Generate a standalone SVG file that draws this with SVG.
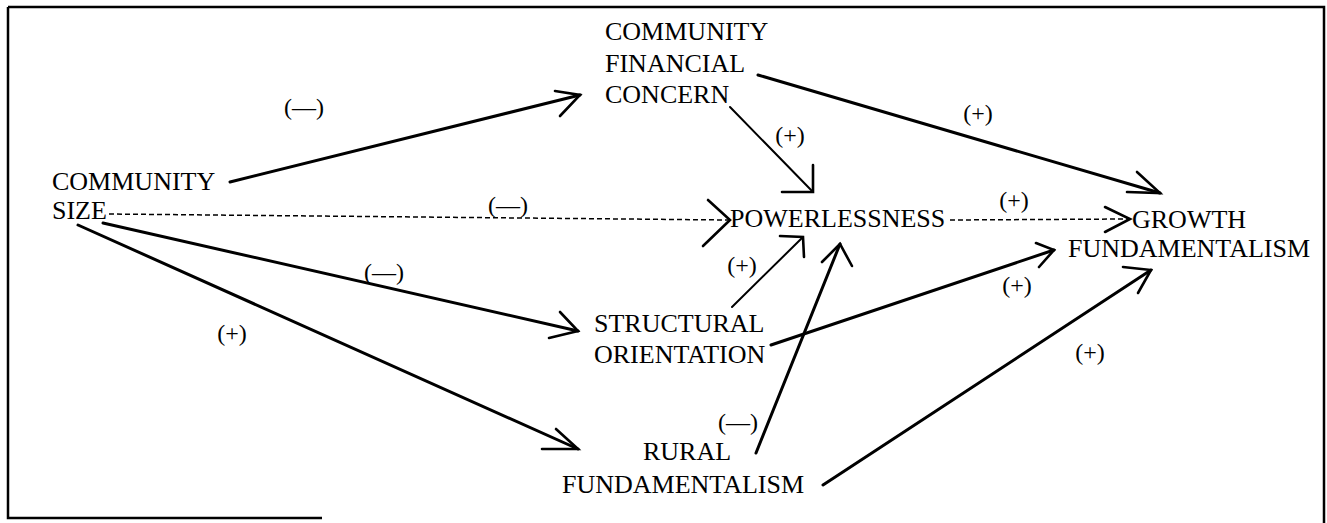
<svg xmlns="http://www.w3.org/2000/svg" width="1327" height="523" viewBox="0 0 1327 523">
<style>
.node text{font-family:"Liberation Serif","Times New Roman",serif;font-size:26px;fill:#000}
.lbl{font-family:"Liberation Serif","Times New Roman",serif;font-size:24px;fill:#000;text-anchor:middle}
.thick{stroke:#000;stroke-width:3;fill:none;stroke-linecap:round;stroke-linejoin:miter}
.thin{stroke:#000;stroke-width:2;fill:none;stroke-linecap:round}
.dash{stroke:#000;stroke-width:1.5;fill:none;stroke-dasharray:5 3}
.head{stroke:#000;stroke-width:2.6;fill:none;stroke-linecap:round;stroke-linejoin:miter}
.frame{stroke:#000;stroke-width:2.5;fill:none}
</style>
<rect width="1327" height="523" fill="#fff"/>
<g id="frame">
<path class="frame" d="M8,7 H1324 V523"/>
<path class="frame" d="M8,7 V518 H322"/>
</g>
<g id="connectors">
<g id="e-cs-cfc"><line class="thick" x1="230" y1="182" x2="580" y2="95"/><polyline class="head" points="555,91 580,95 560,116"/></g>
<g id="e-cs-pow"><line class="dash" x1="109" y1="214" x2="728" y2="220"/><polyline class="head" points="708,200 730,220 703,246"/></g>
<g id="e-cs-so"><line class="thick" x1="103" y1="223" x2="578" y2="331"/><polyline class="head" points="560,312 578,331 549,338"/></g>
<g id="e-cs-rf"><line class="thick" x1="78" y1="225" x2="578" y2="449"/><polyline class="head" points="556,429 578,449 542,449"/></g>
<g id="e-cfc-pow"><line class="thin" x1="730" y1="107" x2="813" y2="192"/><polyline class="head" points="813,165 813,192 782,192"/></g>
<g id="e-cfc-gf"><line class="thick" x1="758" y1="75" x2="1160" y2="193"/><polyline class="head" points="1137,172 1160,193 1127,192"/></g>
<g id="e-pow-gf"><line class="dash" x1="950" y1="220" x2="1128" y2="219"/><polyline class="head" points="1105,207 1130,219 1105,232"/></g>
<g id="e-so-pow"><line class="thin" x1="732" y1="307" x2="803" y2="237"/><polyline class="head" points="780,236 803,237 804,257"/></g>
<g id="e-rf-pow"><line class="thick" x1="756" y1="453" x2="840" y2="244"/><polyline class="head" points="822,262 840,244 852,266"/></g>
<g id="e-so-gf"><line class="thick" x1="771" y1="345" x2="1054" y2="250"/><polyline class="head" points="1036,243 1054,250 1039,267"/></g>
<g id="e-rf-gf"><line class="thick" x1="823" y1="485" x2="1151" y2="270"/><polyline class="head" points="1123,267 1151,270 1138,293"/></g>
</g>
<g id="labels">
<text class="lbl" x="304" y="115">(—)</text>
<text class="lbl" x="508" y="213">(—)</text>
<text class="lbl" x="384" y="280">(—)</text>
<text class="lbl" x="232" y="341">(+)</text>
<text class="lbl" x="790" y="143">(+)</text>
<text class="lbl" x="978" y="121">(+)</text>
<text class="lbl" x="1014" y="208">(+)</text>
<text class="lbl" x="742" y="273">(+)</text>
<text class="lbl" x="1017" y="293">(+)</text>
<text class="lbl" x="1090" y="360">(+)</text>
<text class="lbl" x="738" y="430">(—)</text>
</g>
<g id="n-cs" class="node"><text x="52" y="190">COMMUNITY</text><text x="52" y="219">SIZE</text></g>
<g id="n-cfc" class="node"><text x="605" y="40">COMMUNITY</text><text x="605" y="72">FINANCIAL</text><text x="605" y="103">CONCERN</text></g>
<g id="n-pow" class="node"><text x="730" y="227">POWERLESSNESS</text></g>
<g id="n-gf" class="node"><text x="1132" y="228">GROWTH</text><text x="1068" y="257">FUNDAMENTALISM</text></g>
<g id="n-so" class="node"><text x="594" y="332">STRUCTURAL</text><text x="594" y="363">ORIENTATION</text></g>
<g id="n-rf" class="node"><text x="643" y="460">RURAL</text><text x="562" y="493">FUNDAMENTALISM</text></g>
</svg>
